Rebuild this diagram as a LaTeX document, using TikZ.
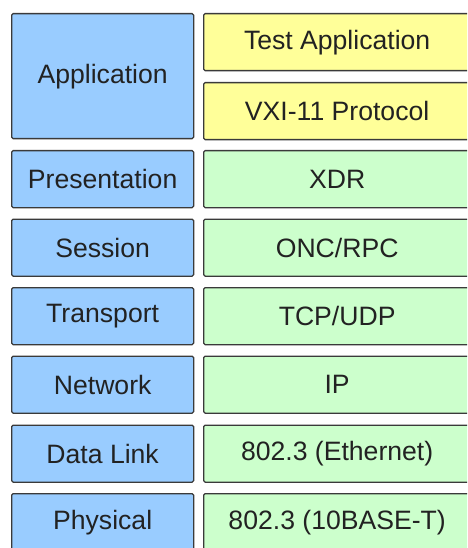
\documentclass[tikz,border=0pt]{standalone}
\usepackage{fontspec}
\setmainfont{Liberation Sans}
\definecolor{layerblue}{HTML}{99CCFF}
\definecolor{appyellow}{HTML}{FFFF99}
\definecolor{protgreen}{HTML}{CCFFCC}
\definecolor{edgegrey}{HTML}{3A3A3A}
\definecolor{txtgrey}{HTML}{222222}
\begin{document}
\begin{tikzpicture}[x=1pt,y=-1pt,
  box/.style={draw=edgegrey, line width=1.3pt, rounded corners=1.5pt, anchor=north west,
    inner sep=0pt, text=txtgrey, font=\fontsize{26.6}{29}\selectfont},
  layer/.style={box, fill=layerblue, minimum width=182pt, minimum height=57pt},
  applayer/.style={layer, minimum height=125pt},
  yellowbox/.style={box, fill=appyellow, minimum width=267pt, minimum height=57pt},
  greenbox/.style={box, fill=protgreen, minimum width=267pt, minimum height=57pt}]
\useasboundingbox (0,0) rectangle (467,548);
\clip (0,0) rectangle (467,548);
\fill[white] (0,0) rectangle (467,548);
\node[applayer] (app) at (11,13) {Application};
\node[yellowbox] (test) at (203,13) {Test Application};
\node[yellowbox] (vxi) at (203,82) {VXI-11 Protocol};
\node[layer] (pres) at (11,150) {Presentation};
\node[greenbox] (xdr) at (203,150) {XDR};
\node[layer] (sess) at (11,218.5) {Session};
\node[greenbox] (onc) at (203,218.5) {ONC/RPC};
\node[layer] (trans) at (11,287) {Transport};
\node[greenbox] (tcp) at (203,287) {TCP/UDP};
\node[layer] (net) at (11,355.5) {Network};
\node[greenbox] (ip) at (203,355.5) {IP};
\node[layer] (dl) at (11,424.5) {Data Link};
\node[greenbox] (eth) at (203,424.5) {802.3 (Ethernet)};
\node[layer] (phys) at (11,493) {Physical};
\node[greenbox] (base) at (203,493) {802.3 (10BASE-T)};
\end{tikzpicture}
\end{document}
